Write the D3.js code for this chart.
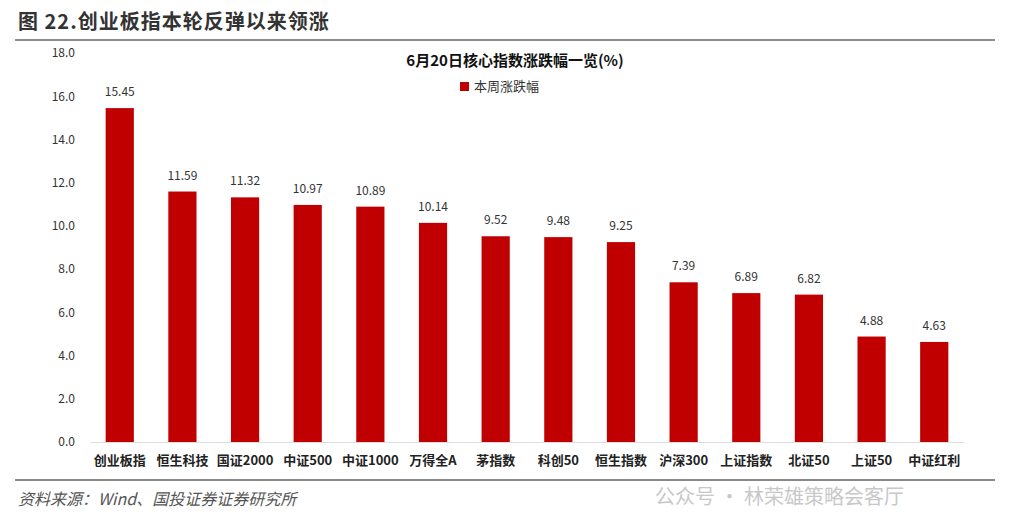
<!DOCTYPE html><html><head><meta charset="utf-8"><script src="https://cdn.jsdelivr.net/npm/d3@7"></script>
<style>body{margin:0;background:#fff}text{font-family:"Noto Sans CJK SC","Noto Sans",sans-serif}</style></head><body><svg width="1024" height="518"></svg><script>
const categories=["创业板指","恒生科技","国证2000","中证500","中证1000","万得全A","茅指数","科创50","恒生指数","沪深300","上证指数","北证50","上证50","中证红利"];
const values=[15.45,11.59,11.32,10.97,10.89,10.14,9.52,9.48,9.25,7.39,6.89,6.82,4.88,4.63];
const yTicks=[0,2,4,6,8,10,12,14,16,18];
const svg=d3.select("svg");
svg.append("text").attr("x",18).attr("y",29).attr("font-size",20).attr("font-weight","bold").attr("fill","#333").attr("letter-spacing",1).text("图 22.创业板指本轮反弹以来领涨");
svg.append("line").attr("x1",15).attr("x2",995).attr("y1",40).attr("y2",40).attr("stroke","#666").attr("stroke-width",1.5);
svg.append("line").attr("x1",15).attr("x2",995).attr("y1",480).attr("y2",480).attr("stroke","#888").attr("stroke-width",2);
svg.append("text").attr("x",18).attr("y",505).attr("font-size",16).attr("font-style","italic").attr("fill","#555").text("资料来源：Wind、国投证券证券研究所");
svg.append("text").attr("x",655).attr("y",504).attr("font-size",20).attr("fill","#bbb").attr("opacity",0.8).text("公众号 · 林荣雄策略会客厅");
const x=d3.scaleBand().domain(categories).range([90,964]).paddingInner(0.55).paddingOuter(0.25);
const y=d3.scaleLinear().domain([0,18]).range([442,53]);
svg.append("text").attr("x",515).attr("y",66).attr("text-anchor","middle").attr("font-size",15).attr("font-weight","bold").attr("fill","#111").text("6月20日核心指数涨跌幅一览(%)");
svg.append("rect").attr("x",460).attr("y",82).attr("width",9).attr("height",9).attr("fill","#c00000");
svg.append("text").attr("x",474).attr("y",91).attr("font-size",13).attr("fill","#333").text("本周涨跌幅");
const ya=svg.append("g").attr("transform","translate(78,0)").call(d3.axisLeft(y).tickValues(yTicks).tickFormat(d3.format(".1f")).tickSize(0));
ya.select(".domain").remove();ya.selectAll("text").attr("font-size",12).attr("fill","#333").attr("font-family","Noto Sans");
svg.selectAll(".bar").data(values).join("rect").attr("x",(d,i)=>x(categories[i])).attr("width",x.bandwidth()).attr("y",d=>y(d)).attr("height",d=>y(0)-y(d)).attr("fill","#c00000");
svg.selectAll(".lbl").data(values).join("text").attr("x",(d,i)=>x(categories[i])+x.bandwidth()/2).attr("y",d=>y(d)-12).attr("text-anchor","middle").attr("font-size",12).attr("fill","#333").attr("font-family","Noto Sans").text(d=>d.toFixed(2));
const xa=svg.append("g").attr("transform","translate(0,442)").call(d3.axisBottom(x).tickSize(0).tickPadding(14));
xa.select(".domain").attr("stroke","#ddd");xa.selectAll("text").attr("font-size",13).attr("font-weight","bold").attr("fill","#222").attr("font-family","Noto Sans CJK SC");
</script></body></html>
